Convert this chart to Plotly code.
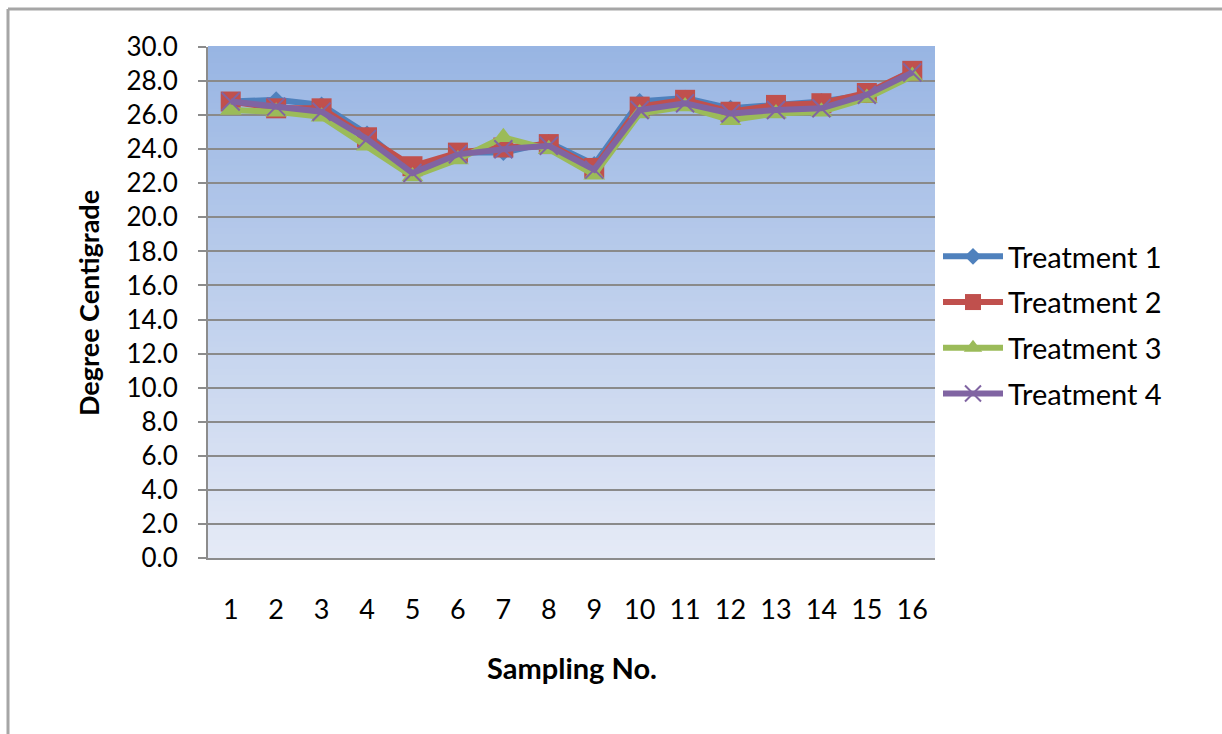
import plotly.graph_objects as go

# Sampling numbers (categories on the x axis)
samples = [str(i) for i in range(1, 17)]

# Temperature readings (degree centigrade) per treatment
treatment_1 = [26.8, 26.9, 26.6, 24.9, 22.7, 23.8, 23.8, 24.4, 23.1, 26.8, 27.0, 26.4, 26.6, 26.8, 27.2, 28.6]
treatment_2 = [26.8, 26.4, 26.4, 24.7, 23.0, 23.8, 24.1, 24.3, 22.9, 26.5, 26.9, 26.2, 26.6, 26.7, 27.3, 28.6]
treatment_3 = [26.3, 26.2, 25.9, 24.2, 22.4, 23.4, 24.7, 24.0, 22.5, 26.1, 26.5, 25.7, 26.1, 26.2, 27.0, 28.3]
treatment_4 = [26.8, 26.5, 26.2, 24.6, 22.6, 23.7, 24.0, 24.2, 22.8, 26.3, 26.7, 26.1, 26.3, 26.4, 27.2, 28.5]

y_ticks = [i * 2 for i in range(16)]
y_tick_text = [f"{v:.1f}" for v in y_ticks]

series = [
    ("Treatment 1", treatment_1, "#4F81BD", dict(symbol="diamond", size=13)),
    ("Treatment 2", treatment_2, "#C0504D", dict(symbol="square", size=20)),
    ("Treatment 3", treatment_3, "#9BBB59", dict(symbol="triangle-up", size=19)),
    ("Treatment 4", treatment_4, "#8064A2", dict(symbol="x-thin", size=18,
                                                  line=dict(width=2, color="#8064A2"))),
]

W, H = 1222, 734
L, R, T, B = 208, 935, 47, 558
pw, ph = R - L, B - T

fig = go.Figure()
for i, (name, vals, color, mk) in enumerate(series):
    fig.add_trace(go.Scatter(
        x=samples, y=vals, name=name, mode="lines+markers",
        line=dict(color=color, width=6),
        marker=dict(color=color, **mk),
        legendgroup=f"g{i}",
    ))

# vertical gradient fill behind the plotting area
top_rgb = (152, 181, 227)
bot_rgb = (229, 234, 246)
n_bands = 90
shapes = []
for k in range(n_bands):
    t = k / (n_bands - 1)
    c = tuple(round(top_rgb[j] + (bot_rgb[j] - top_rgb[j]) * t) for j in range(3))
    y1 = 1 - k / n_bands
    y0 = 1 - (k + 1) / n_bands
    shapes.append(dict(type="rect", xref="x domain", yref="y domain",
                       x0=0, x1=1, y0=y0 - 0.002, y1=y1 + 0.002,
                       fillcolor=f"rgb{c}", line=dict(width=0), layer="below"))

# outer frame (top and left edges)
def px_x(px):
    return (px - L) / pw

def px_y(py):
    return (B - py) / ph

shapes.append(dict(type="line", xref="paper", yref="paper",
                   x0=px_x(8), x1=px_x(1230), y0=px_y(9), y1=px_y(9),
                   line=dict(color="#a6a6a6", width=3)))
shapes.append(dict(type="line", xref="paper", yref="paper",
                   x0=px_x(8), x1=px_x(8), y0=px_y(9), y1=px_y(740),
                   line=dict(color="#a6a6a6", width=3)))

font_family = "Lato, 'Open Sans', sans-serif"

annotations = [
    dict(text="<b>Degree Centigrade</b>", xref="paper", yref="paper",
         x=px_x(88), y=px_y(303), textangle=-90, showarrow=False,
         font=dict(size=27, color="black", family=font_family),
         xanchor="center", yanchor="middle"),
    dict(text="<b>Sampling No.</b>", xref="paper", yref="paper",
         x=px_x(572), y=px_y(667), showarrow=False,
         font=dict(size=29, color="black", family=font_family),
         xanchor="center", yanchor="middle"),
]

fig.update_layout(
    width=W, height=H,
    margin=dict(l=L, r=W - R, t=T, b=H - B, autoexpand=False),
    paper_bgcolor="white",
    plot_bgcolor="rgba(0,0,0,0)",
    font=dict(family=font_family, color="black"),
    shapes=shapes,
    annotations=annotations,
    showlegend=True,
    legend=dict(
        x=px_x(938), y=px_y(231), xanchor="left", yanchor="top",
        font=dict(size=29, color="black", family=font_family),
        bgcolor="rgba(0,0,0,0)", tracegroupgap=5,
        itemwidth=60,
    ),
    xaxis=dict(
        type="category", range=[-0.5, 15.5],
        showgrid=False, zeroline=False,
        showline=True, linecolor="#8c8c8c", linewidth=2,
        ticks="", tickfont=dict(size=27, color="black", family=font_family),
        ticklabelstandoff=27,
    ),
    yaxis=dict(
        range=[0, 30], tickvals=y_ticks, ticktext=y_tick_text,
        showgrid=True, gridcolor="#8a8a8a", gridwidth=1.5,
        zeroline=False, showline=True, linecolor="#8c8c8c", linewidth=2,
        ticks="outside", ticklen=8, tickcolor="#8c8c8c", tickwidth=1.5,
        tickfont=dict(size=26, color="black", family=font_family),
        ticklabelstandoff=15,
    ),
)

fig.write_html("out.html")
